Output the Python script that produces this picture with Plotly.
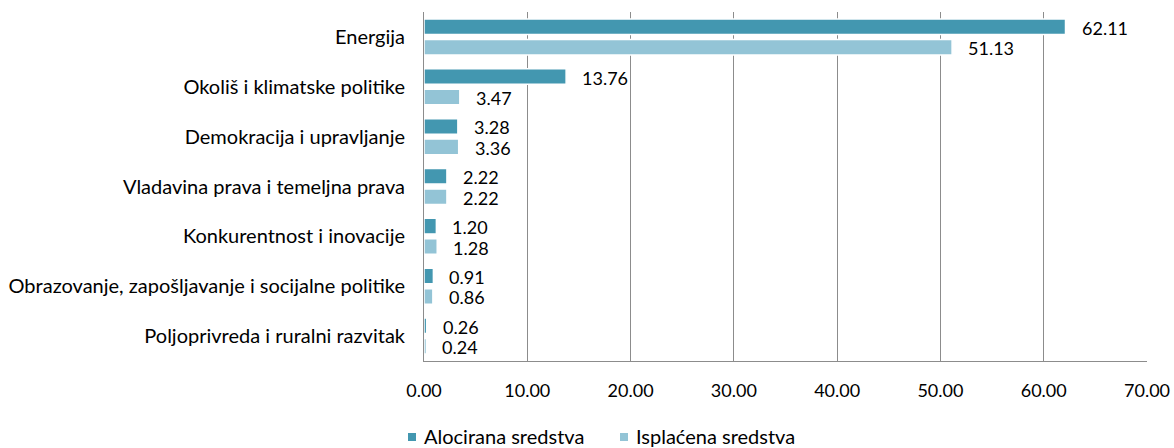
import plotly.graph_objects as go

# Sector names, top to bottom
categories = [
    "Energija",
    "Okoliš i klimatske politike",
    "Demokracija i upravljanje",
    "Vladavina prava i temeljna prava",
    "Konkurentnost i inovacije",
    "Obrazovanje, zapošljavanje i socijalne politike",
    "Poljoprivreda i ruralni razvitak",
]

allocated = [62.11, 13.76, 3.28, 2.22, 1.20, 0.91, 0.26]
disbursed = [51.13, 3.47, 3.36, 2.22, 1.28, 0.86, 0.24]

series_names = ["Alocirana sredstva", "Isplaćena sredstva"]
x_ticks = [0, 10, 20, 30, 40, 50, 60, 70]

DARK = "#4397B0"
LIGHT = "#93C4D6"
FONT = "Lato"

W, H = 1174, 448
ML, MR, MT, MB = 424, 27, 12, 87
PW, PH = W - ML - MR, H - MT - MB


def px_x(px):
    """Pixel column -> paper x."""
    return (px - ML) / PW


def px_y(py):
    """Pixel row -> paper y."""
    return (H - MB - py) / PH


fig = go.Figure()
for name, vals, col in [(series_names[0], allocated, DARK),
                        (series_names[1], disbursed, LIGHT)]:
    fig.add_trace(go.Bar(
        y=categories, x=vals, name=name, orientation="h",
        marker=dict(color=col, line=dict(color="white", width=1.5)),
        hoverinfo="x+y", showlegend=False,
    ))

# Value labels beside each bar, on a white box
for i, cat in enumerate(categories):
    for vals, off in [(allocated, -0.205), (disbursed, 0.205)]:
        fig.add_annotation(
            x=vals[i], y=i + off, xref="x", yref="y",
            text=f"{vals[i]:.2f}", showarrow=False,
            xanchor="left", yanchor="middle", xshift=14, yshift=-1,
            bgcolor="white", font=dict(family=FONT, size=18, color="#000"),
        )

# Legend below the chart: small square key + series name
legend_items = [(series_names[0], DARK, 408), (series_names[1], LIGHT, 620)]
for name, col, left in legend_items:
    fig.add_shape(type="rect", xref="paper", yref="paper",
                  x0=px_x(left), x1=px_x(left + 8),
                  y0=px_y(441), y1=px_y(433),
                  fillcolor=col, line=dict(width=0))
    fig.add_annotation(x=px_x(left + 14), y=px_y(436), xref="paper",
                       yref="paper", text=name, showarrow=False,
                       xanchor="left", yanchor="middle",
                       font=dict(family=FONT, size=20, color="#000"))

fig.update_layout(
    width=W, height=H,
    margin=dict(l=ML, r=MR, t=MT, b=MB, autoexpand=False),
    paper_bgcolor="white", plot_bgcolor="white",
    barmode="group", bargap=0.18, bargroupgap=0.24,
    font=dict(family=FONT, size=18, color="#000"),
    showlegend=False,
    xaxis=dict(
        range=[0, 70], tickvals=x_ticks,
        ticktext=[f"{v:.2f}" for v in x_ticks],
        showgrid=True, gridcolor="#8C8C8C", gridwidth=1,
        zeroline=False, showline=True, linecolor="#8C8C8C", linewidth=1,
        ticks="", ticklabelstandoff=13, automargin=False,
        tickfont=dict(family=FONT, size=18, color="#000"),
    ),
    yaxis=dict(
        type="category", categoryorder="array", categoryarray=categories,
        autorange="reversed", showline=True, linecolor="#8C8C8C",
        linewidth=1, mirror=False, ticks="", ticklabelstandoff=14,
        showgrid=False, automargin=False,
        tickfont=dict(family=FONT, size=20, color="#000"),
    ),
)

fig.write_html("out.html")
